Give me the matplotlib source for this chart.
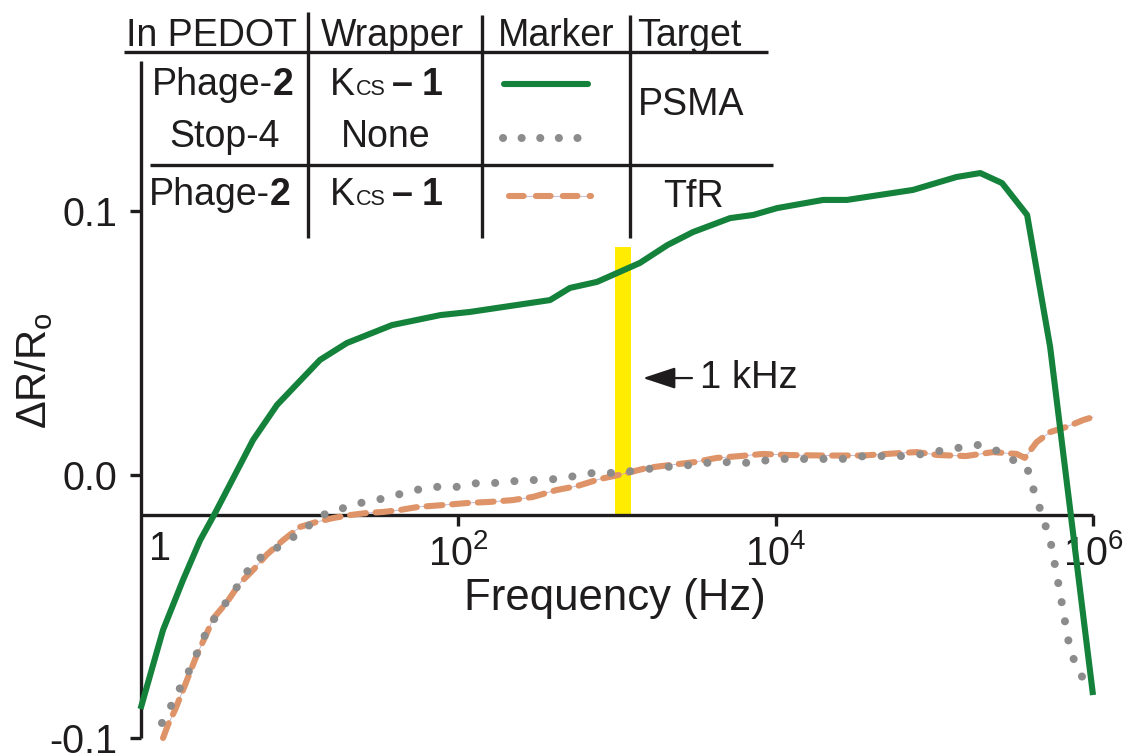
import matplotlib
matplotlib.use("Agg")
import matplotlib.pyplot as plt
import numpy as np
from matplotlib.lines import Line2D
from matplotlib.ticker import FixedLocator, FixedFormatter, NullLocator

plt.rcParams['font.family'] = ['Liberation Sans', 'DejaVu Sans']
plt.rcParams['mathtext.fontset'] = 'custom'
plt.rcParams['mathtext.rm'] = 'Liberation Sans'
plt.rcParams['mathtext.it'] = 'Liberation Sans:italic'
plt.rcParams['mathtext.bf'] = 'Liberation Sans:bold'

# ---------------- data (log10 of frequency in Hz, dR/Ro) ----------------
psma_phage_logf = [0.0, 0.142, 0.268, 0.375, 0.47, 0.709, 0.860, 1.131, 1.30, 1.584,
                   1.889, 2.076, 2.58, 2.705, 2.876, 3.146, 3.32, 3.48, 3.714, 3.86,
                   4.01, 4.30, 4.45, 4.866, 5.14, 5.29, 5.427, 5.585, 5.73, 6.0]
psma_phage_dr = [-0.089, -0.059, -0.040, -0.025, -0.0146, 0.0131, 0.0264, 0.0435, 0.0499, 0.0567,
                 0.0605, 0.0617, 0.0662, 0.0708, 0.0731, 0.0803, 0.0871, 0.092, 0.0973, 0.0985,
                 0.1011, 0.1042, 0.1042, 0.108, 0.1129, 0.1144, 0.1106, 0.0985, 0.0484, -0.0837]

psma_stop_logf = [0.135, 0.186, 0.236, 0.30, 0.387, 0.425, 0.49, 0.564, 0.646, 0.71,
                  0.816, 0.868, 0.963, 1.005, 1.088, 1.143, 1.257, 1.288, 1.414, 1.55,
                  1.698, 1.84, 1.99, 2.126, 2.265, 2.41, 2.56, 2.705, 2.85, 3.0,
                  3.146, 3.285, 3.41, 3.556, 3.70, 3.84, 3.996, 4.13, 4.28, 4.42,
                  4.56, 4.70, 4.85, 4.99, 5.14, 5.275, 5.40, 5.52, 5.585, 5.61,
                  5.65, 5.68, 5.71, 5.74, 5.76, 5.78, 5.80, 5.82, 5.84, 5.866,
                  5.92, 5.97]
psma_stop_dr = [-0.0943, -0.0886, -0.0825, -0.0753, -0.0636, -0.0583, -0.0526, -0.0465, -0.0393, -0.0332,
                -0.0294, -0.0275, -0.0237, -0.0222, -0.018, -0.0154, -0.0135, -0.0123, -0.0104, -0.0089,
                -0.0063, -0.0047, -0.0047, -0.0032, -0.0032, -0.0021, -0.0021, -0.0009, 0.0006, 0.0006,
                0.0017, 0.0028, 0.0032, 0.0044, 0.0047, 0.0044, 0.0059, 0.0059, 0.0059, 0.0059,
                0.007, 0.007, 0.007, 0.0085, 0.010, 0.0112, 0.0089, 0.0047, 0.0028, -0.0032,
                -0.0097, -0.016, -0.021, -0.0275, -0.0343, -0.0408, -0.0476, -0.0545, -0.0617, -0.0685,
                -0.0753, -0.0818]

tfr_phage_logf = [0.142, 0.173, 0.217, 0.26, 0.30, 0.355, 0.418, 0.46, 0.545, 0.627,
                  0.71, 0.794, 0.899, 1.005, 1.11, 1.215, 1.32, 1.426, 1.53, 1.63,
                  1.75, 1.905, 2.063, 2.20, 2.347, 2.473, 2.62, 2.75, 2.895, 3.04,
                  3.19, 3.335, 3.49, 3.63, 3.776, 3.92, 4.07, 4.30, 4.55, 4.80,
                  4.89, 5.02, 5.2, 5.37, 5.52, 5.57, 5.645, 5.73, 5.83, 5.94, 6.0]
tfr_phage_dr = [-0.100, -0.095, -0.0894, -0.083, -0.0769, -0.0685, -0.0602, -0.0545, -0.0484, -0.0412,
                -0.0362, -0.0305, -0.0249, -0.0199, -0.018, -0.0165, -0.0154, -0.0146, -0.0142, -0.0135,
                -0.0123, -0.0116, -0.0108, -0.0104, -0.0097, -0.0085, -0.0059, -0.0044, -0.0017, 0.0002,
                0.0025, 0.0036, 0.0047, 0.0063, 0.007, 0.0078, 0.0074, 0.0072, 0.0072, 0.0082,
                0.0085, 0.0074, 0.007, 0.0085, 0.0078, 0.0063, 0.0123, 0.0161, 0.018, 0.0207, 0.0218]

x_ticks = [1e2, 1e4, 1e6]
x_tick_labels = [r'$\mathregular{10^{2}}$', r'$\mathregular{10^{4}}$', r'$\mathregular{10^{6}}$']
y_ticks = [-0.1, 0.0, 0.1]
y_tick_labels = ['-0.1', '0.0', '0.1']

marker_band_hz = (10 ** 2.989, 10 ** 3.09)
marker_band_top = 0.0863
x_axis_crossing = -0.0153

table_headers = ['In PEDOT', 'Wrapper', 'Marker', 'Target']
table_rows = [('Phage-', '2'), ('Stop-', '4'), ('Phage-', '2')]
wrapper_rows = ['Kcs1', 'None', 'Kcs1']
target_labels = ['PSMA', 'TfR']

# ---------------- styles ----------------
GREEN = '#15823c'
GREY = '#8c8c8c'
ORANGE = '#de9468'
YELLOW = '#ffec00'
INK = '#1e1c1d'

W, H = 1136, 755
fig = plt.figure(figsize=(W / 100, H / 100), dpi=100)
ax = fig.add_axes([140.5 / W, 1 - 738 / H, (1093 - 140.5) / W, (738 - 52.9) / H])
ax.set_xscale('log')
ax.set_xlim(1, 1e6)
ax.set_ylim(-0.1, 0.16)

for s in ['top', 'right']:
    ax.spines[s].set_visible(False)
ax.spines['bottom'].set_position(('data', x_axis_crossing))
ax.spines['left'].set_bounds(-0.1, 0.157)
for s in ['bottom', 'left']:
    ax.spines[s].set_linewidth(2.4)
    ax.spines[s].set_color(INK)
    ax.spines[s].set_capstyle('butt')

ax.xaxis.set_major_locator(FixedLocator(x_ticks))
ax.xaxis.set_major_formatter(FixedFormatter(x_tick_labels))
ax.xaxis.set_minor_locator(NullLocator())
ax.yaxis.set_major_locator(FixedLocator(y_ticks))
ax.yaxis.set_major_formatter(FixedFormatter(y_tick_labels))
ax.tick_params(axis='x', direction='out', length=8, width=2.4, pad=6, labelsize=28.5, colors=INK)
ax.tick_params(axis='y', direction='out', length=8, width=2.4, pad=9, labelsize=28.5, colors=INK)
for lbl in ax.get_yticklabels():
    lbl.set_verticalalignment('center_baseline')

# "1" label for 10^0, just right of the left spine
ax.text(10 ** 0.123, -0.0324, '1', fontsize=28.5, ha='center', va='baseline', color=INK)

# 1 kHz band
ax.fill_betweenx([x_axis_crossing, marker_band_top], marker_band_hz[0], marker_band_hz[1],
                 color=YELLOW, lw=0, zorder=1)

# curves
f_tfr = np.power(10.0, tfr_phage_logf)
ax.plot(f_tfr, tfr_phage_dr, color='#b9b2d9', lw=0.6, zorder=2, clip_on=False)
ax.plot(f_tfr, tfr_phage_dr, color=ORANGE, lw=4.4, linestyle=(0, (2.6, 1.6)),
        dash_capstyle='round', zorder=3, clip_on=False)
ax.plot(np.power(10.0, psma_stop_logf), psma_stop_dr, color=GREY, lw=5.8,
        linestyle=(0, (0.01, 2.4)), dash_capstyle='round', zorder=4, clip_on=False)
ax.plot(np.power(10.0, psma_phage_logf), psma_phage_dr, color=GREEN, lw=4.4,
        solid_capstyle='butt', zorder=5, clip_on=False)

# annotation arrow
ax.annotate('', xy=(10 ** 3.165, 0.0366), xytext=(10 ** 3.474, 0.0366),
            arrowprops=dict(arrowstyle='-|>,head_length=1.0,head_width=0.33', color=INK,
                            lw=1.6, shrinkA=0, shrinkB=0, mutation_scale=20))
ax.text(10 ** 3.525, 0.0328, '1 kHz', fontsize=27.5, ha='left', va='baseline', color=INK)

# axis labels
fig.text(615 / W, 1 - 610 / H, 'Frequency (Hz)', fontsize=31.5, ha='center', va='baseline', color=INK)
fig.text(34 / W, 1 - 371 / H, r'ΔR/R$\mathregular{_o}$', fontsize=30, rotation=90,
         ha='center', va='center', color=INK)

# ---------------- table ----------------
def fx(x):
    return x / W


def fy(y):
    return 1 - y / H


def hline(x0, x1, y):
    fig.add_artist(Line2D([fx(x0), fx(x1)], [fy(y), fy(y)], transform=fig.transFigure,
                          color=INK, lw=2.4, solid_capstyle='butt'))


def vline(x, y0, y1):
    fig.add_artist(Line2D([fx(x), fx(x)], [fy(y0), fy(y1)], transform=fig.transFigure,
                          color=INK, lw=2.4, solid_capstyle='butt'))


hline(124, 768, 52)
hline(150, 773, 165)
vline(308, 12, 238)
vline(482, 15, 238)
vline(630, 15, 238)

renderer = fig.canvas.get_renderer()


def rich(pieces, cx, base):
    arts = []
    for s, size, weight, gap in pieces:
        t = fig.text(0, 0, s, fontsize=size, fontweight=weight, ha='left', va='baseline', color=INK)
        arts.append((t, gap))
    widths = [t.get_window_extent(renderer).width for t, _ in arts]
    total = sum(widths) + sum(g for _, g in arts[:-1])
    x = cx - total / 2
    for (t, gap), w in zip(arts, widths):
        t.set_position((fx(x), fy(base)))
        x += w + gap


TS = 27
header_x = [211, 392, 556, 689]
for h, cx in zip(table_headers, header_x):
    fig.text(fx(cx), fy(46), h, fontsize=TS, ha='center', va='baseline', color=INK)

row_base = [95, 147, 205]
row_cx = [223, 225, 220]
for (a, b), base, cx in zip(table_rows, row_base, row_cx):
    if b == '2':
        rich([(a, TS, 'normal', 0), (b, TS, 'bold', 0)], cx, base)
    else:
        rich([(a + b, TS, 'normal', 0)], cx, base)

for w, base in zip(wrapper_rows, row_base):
    if w == 'Kcs1':
        rich([('K', TS, 'normal', 0.5), ('CS', 15.5, 'normal', 7), ('–', TS, 'bold', 8),
              ('1', TS, 'bold', 0)], 386, base)
    else:
        fig.text(fx(386), fy(base), w, fontsize=TS, ha='center', va='baseline', color=INK)

fig.text(fx(691), fy(115), target_labels[0], fontsize=TS, ha='center', va='baseline', color=INK)
fig.text(fx(693), fy(207), target_labels[1], fontsize=TS, ha='center', va='baseline', color=INK)

# marker samples
fig.add_artist(Line2D([fx(504), fx(588)], [fy(84), fy(84)], transform=fig.transFigure,
                      color=GREEN, lw=4.4, solid_capstyle='round'))
fig.add_artist(Line2D([fx(503), fx(579)], [fy(138), fy(138)], transform=fig.transFigure,
                      color=GREY, lw=5.8, linestyle=(0, (0.01, 2.3)), dash_capstyle='round'))
fig.add_artist(Line2D([fx(509), fx(591)], [fy(196), fy(196)], transform=fig.transFigure,
                      color='#c8c2e0', lw=0.8))
fig.add_artist(Line2D([fx(509), fx(591)], [fy(196), fy(196)], transform=fig.transFigure,
                      color=ORANGE, lw=4.4, linestyle=(0, (2.4, 2.0)), dash_capstyle='round'))

fig.savefig('out.png', dpi=100, facecolor='white')
